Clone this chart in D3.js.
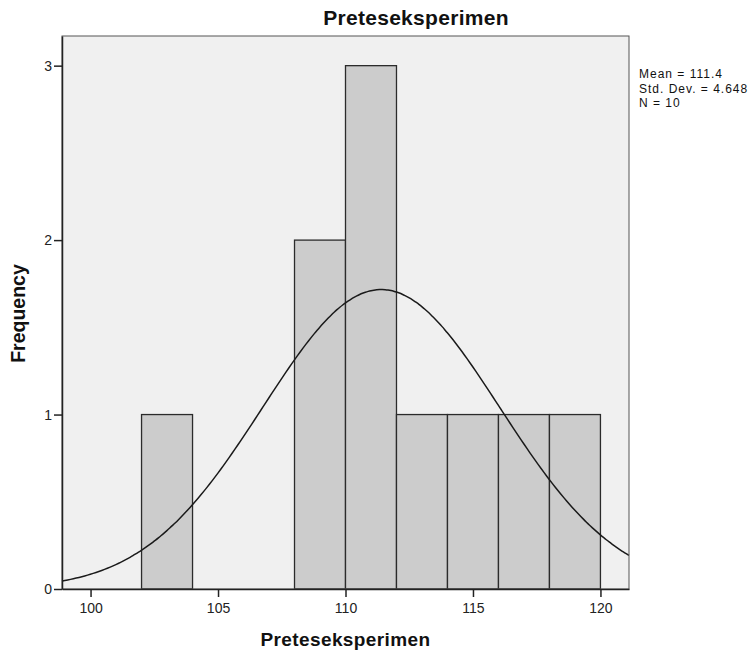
<!DOCTYPE html>
<html>
<head>
<meta charset="utf-8">
<script src="https://cdn.jsdelivr.net/npm/d3@7"></script>
<style>
  body { margin: 0; background: #fff; }
  text { font-family: "Liberation Sans", Arial, sans-serif; }
</style>
</head>
<body>
<script>
// histogram bins (lower edge, upper edge) and counts
let binStart = [102, 108, 110, 112, 114, 116, 118];
let binEnd   = [104, 110, 112, 114, 116, 118, 120];
let counts   = [1, 2, 3, 1, 1, 1, 1];
let xTicks = [100, 105, 110, 115, 120];
let yTicks = [0, 1, 2, 3];
let stats = ["Mean = 111.4", "Std. Dev. = 4.648", "N = 10"];
let mean = 111.4, sd = 4.648, n = 10, binWidth = 2;

let width = 755, height = 656;
let margin = {top: 36, right: 126, bottom: 67, left: 62};
let w = width - margin.left - margin.right,
    h = height - margin.top - margin.bottom;

let svg = d3.select("body").append("svg")
    .attr("width", width)
    .attr("height", height);

let x = d3.scaleLinear().domain([98.88, 121.12]).range([0, w]);
let y = d3.scaleLinear().domain([0, 3.17]).range([h, 0]);

let g = svg.append("g").attr("transform", "translate(" + margin.left + "," + margin.top + ")");

g.append("rect")
    .attr("width", w).attr("height", h)
    .style("fill", "#f0f0f0");

// bars
g.selectAll(".bar")
    .data(counts)
    .enter().append("rect")
    .attr("class", "bar")
    .attr("x", (d, i) => x(binStart[i]))
    .attr("width", (d, i) => x(binEnd[i]) - x(binStart[i]))
    .attr("y", d => y(d))
    .attr("height", d => y(0) - y(d))
    .style("fill", "#cccccc")
    .style("stroke", "#2b2b2b")
    .style("stroke-width", 1.3);

// normal curve
let pts = d3.range(0, 201).map(i => {
    let v = 98.88 + i * (121.12 - 98.88) / 200;
    let f = n * binWidth / (sd * Math.sqrt(2 * Math.PI)) * Math.exp(-0.5 * Math.pow((v - mean) / sd, 2));
    return [v, f];
});
g.append("path")
    .datum(pts)
    .attr("d", d3.line().x(d => x(d[0])).y(d => y(d[1])).curve(d3.curveBasis))
    .style("fill", "none")
    .style("stroke", "#1a1a1a")
    .style("stroke-width", 1.5);

// frame
g.append("rect")
    .attr("width", w).attr("height", h)
    .style("fill", "none")
    .style("stroke", "#555")
    .style("stroke-width", 1);

// axes
let xAxis = g.append("g")
    .attr("transform", "translate(0," + h + ")")
    .call(d3.axisBottom(x).tickValues(xTicks).tickSizeInner(8).tickSizeOuter(0).tickPadding(6).tickFormat(d3.format("d")));
let yAxis = g.append("g")
    .call(d3.axisLeft(y).tickValues(yTicks).tickSizeInner(8).tickSizeOuter(0).tickPadding(2).tickFormat(d3.format("d")));
[xAxis, yAxis].forEach(a => {
    a.select(".domain").style("stroke", "#222").style("stroke-width", 1.5);
    a.selectAll(".tick line").style("stroke", "#222").style("stroke-width", 1.5);
    a.selectAll("text").style("font-size", "14px").style("fill", "#222")
        .style("font-family", "'Liberation Sans', Arial, sans-serif");
});

// title and labels
svg.append("text")
    .attr("x", 416).attr("y", 25)
    .attr("text-anchor", "middle")
    .style("font-size", "21px").style("font-weight", "bold").style("fill", "#111")
    .style("letter-spacing", "0.3px")
    .text("Preteseksperimen");

svg.append("text")
    .attr("x", margin.left + w / 2).attr("y", 646)
    .attr("text-anchor", "middle")
    .style("font-size", "19px").style("font-weight", "bold").style("fill", "#111")
    .style("letter-spacing", "0.4px")
    .text("Preteseksperimen");

svg.append("text")
    .attr("transform", "translate(25," + (margin.top + h / 2 + 1) + ") rotate(-90)")
    .attr("text-anchor", "middle")
    .style("font-size", "19.5px").style("font-weight", "bold").style("fill", "#111")
    .text("Frequency");

svg.selectAll(".stat")
    .data(stats)
    .enter().append("text")
    .attr("class", "stat")
    .attr("x", 639)
    .attr("y", (d, i) => 78 + i * 14.7)
    .style("font-size", "12px").style("fill", "#111")
    .style("letter-spacing", "1px")
    .text(d => d);
</script>
</body>
</html>
